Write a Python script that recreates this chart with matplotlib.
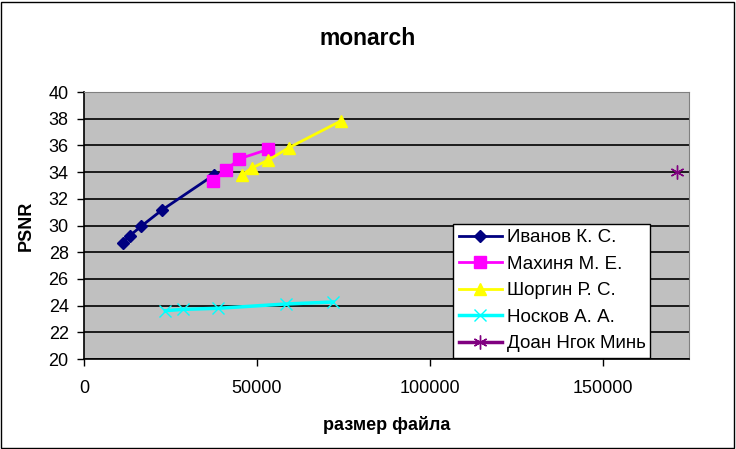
import numpy as np
import matplotlib.pyplot as plt
from matplotlib.patches import Rectangle

plt.rcParams['font.family'] = ['Liberation Sans', 'DejaVu Sans']

# data
ivanov_x = [11150, 13260, 16630, 22560, 37550]
ivanov_y = [28.67, 29.24, 29.96, 31.16, 33.78]
makhinya_x = [37380, 41120, 44960, 53230]
makhinya_y = [33.36, 34.16, 35.0, 35.7]
shorgin_x = [45620, 48500, 53310, 59280, 74440]
shorgin_y = [33.78, 34.3, 34.9, 35.83, 37.85]
noskov_x = [23540, 28620, 38820, 58300, 72050]
noskov_y = [23.62, 23.72, 23.8, 24.12, 24.27]
doan_x = [171570]
doan_y = [34.0]

names = ['Иванов К. С.', 'Махиня М. Е.', 'Шоргин Р. С.', 'Носков А. А.', 'Доан Нгок Минь']
x_ticks = [0, 50000, 100000, 150000]
y_ticks = list(range(20, 41, 2))

fig = plt.figure(figsize=(7.36, 4.49), dpi=100)
fig.patches.append(Rectangle((0.002, 0.003), 0.995, 0.993, transform=fig.transFigure,
                             fill=False, edgecolor='black', linewidth=1))
ax = fig.add_axes([0.1141, 0.2004, 0.822, 0.5947])
ax.set_facecolor('#C0C0C0')

ax.plot(ivanov_x, ivanov_y, color='#000080', marker='D', markersize=6, linewidth=2, label=names[0])
ax.plot(makhinya_x, makhinya_y, color='#FF00FF', marker='s', markersize=8, linewidth=2, label=names[1])
ax.plot(shorgin_x, shorgin_y, color='#FFFF00', marker='^', markersize=9, linewidth=2, label=names[2])
ax.plot(noskov_x, noskov_y, color='#00FFFF', marker='x', markersize=8, markeredgewidth=1, linewidth=2.5, label=names[3])
ax.plot(doan_x, doan_y, color='#800080', marker=(6, 2, 0), markersize=10, markeredgewidth=1, linewidth=2.5, label=names[4])

ax.set_xlim(0, 175000)
ax.set_ylim(20, 40)
ax.set_xticks(x_ticks)
ax.set_yticks(y_ticks)
ax.yaxis.grid(True, color='black', linewidth=1.2)
ax.set_axisbelow(True)
ax.tick_params(labelsize=13, direction='out', length=5, width=1)
ax.tick_params(axis='x', pad=10)
ax.tick_params(axis='y', pad=6)
for s in ['top', 'right']:
    ax.spines[s].set_color('#808080')
ax.spines['left'].set_linewidth(1.2)
ax.spines['bottom'].set_linewidth(1.2)

ax.set_xlabel('размер файла', fontsize=13, fontweight='bold', labelpad=14)
ax.set_ylabel('PSNR', fontsize=13, fontweight='bold', labelpad=10)
fig.suptitle('monarch', fontsize=16.5, fontweight='bold', y=0.94)

leg = ax.legend(loc='lower left', bbox_to_anchor=(0.61, 0.004, 0.325, 0.51), mode='expand',
                fontsize=13.5, fancybox=False, framealpha=1, edgecolor='black',
                borderaxespad=0, handlelength=2.3, labelspacing=0.5, borderpad=0.3,
                handletextpad=0.3)
leg.get_frame().set_linewidth(1)

fig.savefig('out.png', dpi=100)
